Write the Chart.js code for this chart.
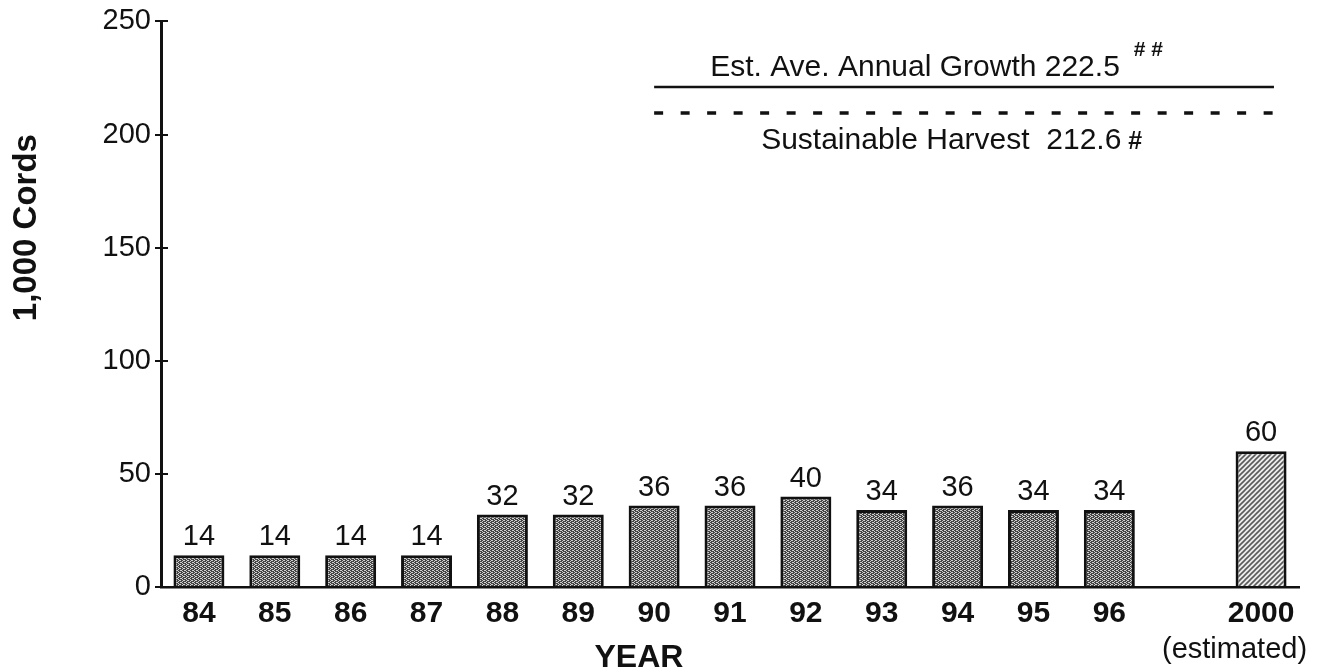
<!DOCTYPE html>
<html><head><meta charset="utf-8">
<script src="https://cdn.jsdelivr.net/npm/chart.js@4.4.1/dist/chart.umd.min.js"></script>
<style>html,body{margin:0;padding:0;background:#fff;overflow:hidden}</style>
</head><body>
<canvas id="c" width="1319" height="672"></canvas>
<script>
// ---- data ----
const categories = ['84','85','86','87','88','89','90','91','92','93','94','95','96','','2000'];
const harvestValues = [14,14,14,14,32,32,36,36,40,34,36,34,34,null,60];
const estimatedFlags = [false,false,false,false,false,false,false,false,false,false,false,false,false,false,true];
const yTicks = [0,50,100,150,200,250];
const growthLevel = [221, 221];        // solid line (labelled 222.5)
const sustainableLevel = [209.5, 209.5]; // dashed line (labelled 212.6)
const refLineSpan = [6, 14.17];        // category-index span of the two reference lines
const growthLabel = 'Est. Ave. Annual Growth 222.5';
const growthMark = '# #';
const sustainLabel = 'Sustainable Harvest  212.6';
const sustainMark = '#';
const xTitle = 'YEAR';
const yTitle = '1,000 Cords';
const estimatedNote = '(estimated)';

const FONT = '"Liberation Sans", Arial, Helvetica, sans-serif';

function stipplePattern(){
  const c = document.createElement('canvas'); c.width = 4; c.height = 4;
  const g = c.getContext('2d');
  g.fillStyle = '#444444'; g.fillRect(0,0,4,4);
  g.fillStyle = '#d0d0d0';
  [[0,0],[2,1],[0,2],[2,3],[3,0],[1,2]].forEach(p=>g.fillRect(p[0],p[1],1,1));
  return g.createPattern(c,'repeat');
}
function hatchPattern(){
  const p = 5;
  const c = document.createElement('canvas'); c.width = p; c.height = p;
  const g = c.getContext('2d');
  g.fillStyle = '#ececec'; g.fillRect(0,0,p,p);
  g.strokeStyle = '#5a5a5a'; g.lineWidth = 1.6;
  g.beginPath();
  g.moveTo(0,p); g.lineTo(p,0);
  g.moveTo(-1,1); g.lineTo(1,-1);
  g.moveTo(p-1,p+1); g.lineTo(p+1,p-1);
  g.stroke();
  return g.createPattern(c,'repeat');
}
const stip = stipplePattern(), hatch = hatchPattern();

const spanPts = (lv) => refLineSpan.map((x,i)=>({x:x, y:lv[i]}));

const annot = {
  id: 'annot',
  afterDatasetsDraw(chart){
    const {ctx, scales:{y, xl}, chartArea} = chart;
    ctx.save();
    // inner parts of y tick marks
    ctx.strokeStyle = '#111'; ctx.lineWidth = 2;
    yTicks.forEach(v=>{
      const py = Math.round(y.getPixelForValue(v));
      ctx.beginPath(); ctx.moveTo(chartArea.left, py); ctx.lineTo(chartArea.left+7, py); ctx.stroke();
    });
    // value labels
    ctx.fillStyle = '#111';
    ctx.font = '29px ' + FONT;
    ctx.textAlign = 'center'; ctx.textBaseline = 'alphabetic';
    const meta = chart.getDatasetMeta(0);
    meta.data.forEach((el,i)=>{
      if (harvestValues[i] == null) return;
      ctx.fillText(String(harvestValues[i]), el.x, el.y - 10);
    });
    // reference line labels
    const x0 = xl.getPixelForValue(refLineSpan[0]);
    const gy = y.getPixelForValue(growthLevel[0]);
    const sy = y.getPixelForValue(sustainableLevel[0]);
    ctx.textAlign = 'left';
    ctx.font = '30px ' + FONT;
    const gx = x0 + 56;
    ctx.fillText(growthLabel, gx, gy - 11);
    const gw = ctx.measureText(growthLabel).width;
    const sx = x0 + 107;
    ctx.fillText(sustainLabel, sx, sy + 36);
    const sw = ctx.measureText(sustainLabel).width;
    ctx.font = 'bold 21px ' + FONT;
    ctx.fillText(growthMark, gx + gw + 14, gy - 31);
    ctx.font = 'bold 25px ' + FONT;
    ctx.fillText(sustainMark, sx + sw + 7, sy + 36);
    // axis titles
    ctx.font = 'bold 32px ' + FONT;
    ctx.textAlign = 'center';
    ctx.fillText(xTitle, xl.getPixelForValue(5.8), 667);
    ctx.font = '29px ' + FONT;
    ctx.textAlign = 'right';
    ctx.fillText(estimatedNote, xl.getPixelForValue(14) + 46, 658);
    ctx.save();
    ctx.translate(27, (y.getPixelForValue(200) + y.getPixelForValue(100)) / 2 - 20);
    ctx.rotate(-Math.PI/2);
    ctx.textAlign = 'center'; ctx.textBaseline = 'middle';
    ctx.font = 'bold 33px ' + FONT;
    ctx.fillText(yTitle, 0, 0);
    ctx.restore();
    ctx.restore();
  }
};

new Chart(document.getElementById('c'), {
  type: 'bar',
  data: {
    labels: categories,
    datasets: [
      {
        type: 'bar',
        data: harvestValues,
        backgroundColor: estimatedFlags.map(f => f ? hatch : stip),
        borderColor: '#111',
        borderWidth: 3,
        borderSkipped: 'bottom',
        barPercentage: 0.672,
        categoryPercentage: 1,
        grouped: false,
        order: 2
      },
      {
        type: 'line', xAxisID: 'xl',
        data: spanPts(growthLevel),
        borderColor: '#111', borderWidth: 2.5,
        pointRadius: 0, fill: false, order: 1
      },
      {
        type: 'line', xAxisID: 'xl',
        data: spanPts(sustainableLevel),
        borderColor: '#111', borderWidth: 3.5, borderDash: [9, 17.5],
        pointRadius: 0, fill: false, order: 1
      }
    ]
  },
  options: {
    responsive: false,
    animation: false,
    layout: { padding: { top: 20, right: 20, left: 0, bottom: 0 } },
    plugins: { legend: { display: false }, tooltip: { enabled: false } },
    scales: {
      x: {
        type: 'category',
        offset: true,
        grid: { display: false, drawTicks: false },
        border: { display: true, color: '#111', width: 2.5 },
        ticks: { color: '#111', font: { family: FONT, size: 30, weight: 'bold' }, padding: 9, maxRotation: 0, autoSkip: false },
        afterFit: (s) => { s.height = 85; }
      },
      xl: {
        type: 'linear', display: false, min: -0.5, max: 14.5, offset: false, bounds: 'data',
        grid: { offset: false }
      },
      y: {
        min: 0, max: 250,
        afterBuildTicks: (s) => { s.ticks = yTicks.map(v => ({ value: v })); },
        grid: { drawOnChartArea: false, drawTicks: true, tickLength: 6, color: '#111', lineWidth: 2 },
        border: { display: true, color: '#111', width: 3 },
        ticks: { color: '#111', font: { family: FONT, size: 29 }, padding: 4 },
        afterFit: (s) => { s.width = 161; }
      }
    }
  },
  plugins: [annot]
});
</script>
</body></html>
